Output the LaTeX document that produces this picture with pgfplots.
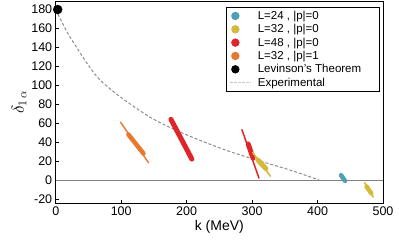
\documentclass[border=0pt]{standalone}
\usepackage{pgfplots}
\pgfplotsset{compat=1.18}
\usepackage{fontspec}
\setmainfont{Liberation Sans}
\definecolor{ccyan}{HTML}{4FA0B3}
\definecolor{cyel}{HTML}{D6B93A}
\definecolor{cred}{HTML}{E0252A}
\definecolor{corange}{HTML}{E8782D}
\pgfplotsset{
  dotleg/.style={legend image code/.code={
    \path (0pt,0pt) (26pt,0pt);
    \fill[##1] (5pt,0pt) circle (3.7pt);}},
  dashleg/.style={legend image code/.code={
    \path (0pt,0pt) (26pt,0pt);
    \draw[##1] (0pt,0pt) -- (21pt,0pt);}},
}
\begin{document}
\begin{tikzpicture}
\begin{axis}[
  scale only axis, width=327pt, height=202pt,
  xmin=0, xmax=500, ymin=-24.5, ymax=189,
  clip=false,
  axis line style={line width=0.9pt},
  xtick={0,100,200,300,400,500},
  ytick={-20,0,20,40,60,80,100,120,140,160,180},
  tick align=inside, major tick length=3pt,
  xtick pos=bottom, ytick pos=left,
  tick style={line width=0.6pt, black},
  /pgf/number format/assume math mode=true,
  ticklabel style={font=\fontsize{12.5}{14}\selectfont},
  xlabel={k (MeV)}, ylabel={$\delta_{1\,\alpha}$},
  xlabel style={font=\fontsize{14}{16}\selectfont, yshift=2pt},
  ylabel style={font=\fontsize{17}{19}\selectfont, yshift=-2pt},
  legend style={at={(0.99,0.97)}, anchor=north east, draw=black, line width=0.9pt,
    font=\fontsize{11.5}{13}\selectfont, row sep=-0.5pt, inner xsep=3pt, inner ysep=1.5pt,
    nodes={inner xsep=1pt}},
  legend cell align=left,
]
\addlegendimage{dotleg, ccyan}
\addlegendentry{L=24 , |p|=0}
\addlegendimage{dotleg, cyel}
\addlegendentry{L=32 , |p|=0}
\addlegendimage{dotleg, cred}
\addlegendentry{L=48 , |p|=0}
\addlegendimage{dotleg, corange}
\addlegendentry{L=32 , |p|=1}
\addlegendimage{dotleg, black}
\addlegendentry{Levinson's Theorem\hspace*{14pt}}
\addlegendimage{dashleg, gray!45, dash pattern=on 2.5pt off 1.5pt, line width=0.7pt}
\addlegendentry{Experimental}
% zero line
\addplot[forget plot, gray, line width=0.6pt] coordinates {(0,0) (500,0)};
% experimental curve
\addplot[forget plot, gray!90, dash pattern=on 3pt off 2pt, line width=1pt, smooth, tension=0.6] coordinates {
(0,180) (10,166) (20,153) (32,140) (45,126) (63,109) (80,98) (100,87) (129,73) (150,64)
(179,54) (220,42) (266,30) (317,19) (360,10) (402,0)};
% orange L=32 |p|=1
\addplot[forget plot, corange, line width=1.4pt, line cap=round] coordinates {(99,61) (142,18)};
\addplot[forget plot, corange, line width=4.5pt, line cap=round] coordinates {(111,48) (134,28)};
% red L=48
\addplot[forget plot, cred, line width=5pt, line cap=round] coordinates {(176,64) (208,22)};
\addplot[forget plot, cred, line width=1.5pt, line cap=round] coordinates {(284.5,53) (310.5,2)};
\addplot[forget plot, cred, line width=5pt, line cap=round] coordinates {(294,38) (301.5,23)};
% yellow L=32
\addplot[forget plot, cyel, line width=1.6pt, line cap=round] coordinates {(301,29) (328,4)};
\addplot[forget plot, cyel, line width=5pt, line cap=round] coordinates {(309,21) (321,12)};
\addplot[forget plot, cyel, line width=1.6pt, line cap=round] coordinates {(472,-3) (485,-18)};
\addplot[forget plot, cyel, line width=4.5pt, line cap=round] coordinates {(475,-7) (482,-14)};
% cyan L=24
\addplot[forget plot, ccyan, line width=4.5pt, line cap=round] coordinates {(436,5) (442,-1)};
% Levinson
\addplot[forget plot, only marks, mark=*, mark size=4.5pt, black] coordinates {(3,180)};
\end{axis}
\pgfresetboundingbox
\path ([xshift=-55.7pt,yshift=-46.3pt]current axis.south west) rectangle ([xshift=16pt,yshift=1pt]current axis.north east);
\end{tikzpicture}
\end{document}
